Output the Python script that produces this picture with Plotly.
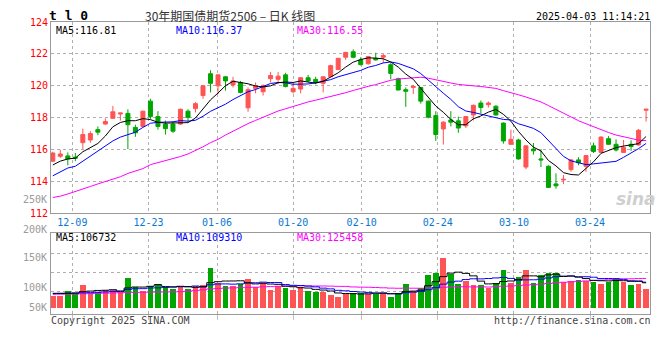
import plotly.graph_objects as go

# ---------------- data ----------------
dates = ["12-04","12-05","12-06","12-09","12-10","12-11","12-12","12-13","12-16","12-17",
         "12-18","12-19","12-20","12-23","12-24","12-25","12-26","12-27","12-30","12-31",
         "01-02","01-03","01-06","01-07","01-08","01-09","01-10","01-13","01-14","01-15",
         "01-16","01-17","01-20","01-21","01-22","01-23","01-24","01-27","02-05","02-06",
         "02-07","02-10","02-11","02-12","02-13","02-14","02-17","02-18","02-19","02-20",
         "02-21","02-24","02-25","02-26","02-27","02-28","03-03","03-04","03-05","03-06",
         "03-07","03-10","03-11","03-12","03-13","03-14","03-17","03-18","03-19","03-20",
         "03-21","03-24","03-25","03-26","03-27","03-28","03-31","04-01","04-02","04-03"]

open_ = [115.26,115.57,115.59,115.51,116.42,116.59,117.24,117.59,117.95,118.22,
         118.26,117.38,117.44,119.03,118.06,117.59,117.59,117.59,118.40,118.56,
         119.38,120.75,119.99,120.56,120.05,120.20,118.61,119.83,119.62,120.44,
         120.40,120.68,119.62,119.79,120.50,120.40,120.15,120.56,121.01,121.79,
         122.13,121.62,121.38,121.72,121.79,121.32,120.44,119.75,119.89,119.89,
         119.03,118.12,117.28,117.85,117.79,117.48,118.16,118.91,118.81,118.71,
         117.65,116.32,116.59,114.89,116.02,115.40,114.94,113.83,114.08,114.73,
         115.34,114.94,116.22,115.81,116.67,116.32,115.81,116.32,116.28,118.46]
high = [115.85,115.98,115.81,115.77,117.30,117.14,117.44,117.95,118.73,118.30,
        118.52,117.55,118.42,119.18,118.40,117.81,117.75,118.56,118.52,118.97,
        120.00,120.97,120.70,120.60,120.56,120.30,119.89,120.20,120.09,120.87,
        120.87,120.81,120.20,120.52,120.68,120.56,120.58,121.32,121.74,122.13,
        122.28,121.79,121.87,122.07,121.99,121.42,120.50,119.89,120.05,119.91,
        119.07,118.40,117.77,118.40,118.06,118.08,118.81,119.07,119.01,118.77,
        117.69,117.24,116.67,116.24,116.40,116.02,115.00,114.49,114.39,115.40,
        115.51,115.63,116.42,116.83,116.83,116.63,116.59,116.57,117.28,118.54]
low = [115.20,115.47,115.00,115.26,116.02,116.42,116.89,117.55,117.93,117.81,
       116.02,116.79,117.42,117.91,117.24,116.93,117.04,117.55,117.75,118.32,
       119.18,119.58,119.48,119.69,119.89,119.52,118.36,119.52,119.38,120.20,
       120.09,119.89,119.52,119.52,120.20,120.09,119.58,120.54,120.99,121.62,
       121.72,121.28,121.32,121.58,121.42,120.40,119.71,118.67,119.48,118.87,
       117.95,116.53,116.30,117.44,117.04,117.34,117.81,118.26,118.63,118.12,
       116.36,116.30,115.36,114.75,115.67,114.89,113.59,113.53,113.81,114.59,
       115.00,114.59,115.77,115.77,116.28,115.87,115.79,115.91,116.22,117.75]
close = [115.77,115.71,115.40,115.45,116.93,116.99,117.08,117.75,118.36,118.28,
         117.55,117.04,118.40,118.06,117.44,117.30,117.14,118.52,118.01,118.87,
         119.99,120.15,120.68,120.30,120.30,119.58,119.75,119.99,119.99,120.64,
         120.60,119.95,119.83,120.50,120.30,120.20,120.56,121.26,121.72,122.09,
         121.79,121.32,121.83,121.62,121.89,120.77,119.73,119.65,119.95,119.03,
         118.02,116.93,117.71,117.71,117.34,118.06,118.77,118.63,118.91,118.16,
         116.53,116.63,115.40,116.22,115.91,115.34,113.61,113.71,114.12,115.34,
         115.16,115.61,115.87,116.77,116.32,115.96,116.12,116.18,117.20,118.52]

ma5 = [115.02,115.26,115.40,115.45,115.85,116.10,116.37,116.84,117.42,117.69,
       117.80,117.80,117.93,117.87,117.70,117.65,117.67,117.69,117.68,117.97,
       118.51,119.11,119.54,120.00,120.28,120.20,120.12,119.98,119.92,119.99,
       120.19,120.23,120.20,120.30,120.24,120.16,120.28,120.56,120.81,121.17,
       121.48,121.64,121.75,121.73,121.69,121.49,121.17,120.73,120.40,119.83,
       119.28,118.72,118.33,117.88,117.54,117.55,117.92,118.10,118.34,118.51,
       118.20,117.77,117.13,116.59,116.14,115.90,115.30,114.96,114.54,114.42,
       114.39,114.79,115.22,115.75,115.95,116.11,116.21,116.27,116.36,116.81]
ma10 = [114.34,114.59,114.83,114.94,115.26,115.61,115.91,116.22,116.53,116.77,
        116.95,117.08,117.38,117.64,117.70,117.73,117.73,117.81,117.77,117.83,
        118.08,118.39,118.62,118.84,119.13,119.35,119.62,119.76,119.96,120.14,
        120.20,120.18,120.09,120.11,120.11,120.18,120.26,120.38,120.56,120.70,
        120.82,120.96,121.16,121.27,121.43,121.49,121.40,121.24,121.06,120.76,
        120.38,119.94,119.53,119.14,118.68,118.41,118.32,118.22,118.11,118.02,
        117.88,117.85,117.61,117.47,117.32,117.05,116.53,116.04,115.56,115.28,
        115.14,115.04,115.09,115.14,115.19,115.25,115.50,115.75,116.05,116.37]
ma30 = [112.98,113.06,113.20,113.37,113.51,113.67,113.83,113.98,114.12,114.28,
        114.49,114.65,114.79,115.04,115.16,115.28,115.40,115.55,115.71,115.91,
        116.16,116.42,116.63,116.90,117.15,117.42,117.62,117.82,118.03,118.25,
        118.41,118.55,118.70,118.87,118.98,119.09,119.20,119.32,119.43,119.56,
        119.70,119.84,119.96,120.07,120.22,120.34,120.42,120.46,120.53,120.53,
        120.47,120.36,120.26,120.17,120.08,120.02,119.99,119.95,119.91,119.83,
        119.69,119.58,119.43,119.29,119.14,118.98,118.75,118.50,118.25,118.02,
        117.80,117.61,117.41,117.25,117.06,116.90,116.78,116.67,116.58,116.55]

volume = [53500,53500,71800,64700,98400,64700,67500,75900,75900,70300,
          130800,88600,74600,92800,105400,88600,81600,88600,81600,94300,
          98400,173000,109700,95600,95600,102600,126600,88600,109700,78800,
          95600,85800,77300,88600,71800,67500,70300,56300,46400,60500,
          63300,63300,60500,60500,64700,46400,64700,105400,71800,84400,
          143400,151900,215200,147700,105400,116700,98400,101300,87200,109700,
          164500,109700,135100,164500,109700,143400,151900,151900,113900,118100,
          122400,118100,113900,105400,113900,130800,113900,101300,105400,80100]
vma5 = [60500,60500,61000,62000,68400,70600,73400,74200,76500,70900,
        84100,88300,88000,91400,98400,90000,88600,91400,89200,86900,
        88900,107200,111400,114200,114500,115300,106000,101800,104600,101300,
        99900,91700,89400,85200,83800,78200,75100,70900,62500,60200,
        59400,58000,58800,61600,62500,59100,59400,68300,70600,74500,
        93900,111400,133300,148500,152700,147400,136700,113900,101800,102700,
        112200,114500,121200,136700,136700,132500,140900,144300,134200,135800,
        131600,124900,117300,115600,114700,116400,115600,113100,113100,106732]
vma10 = [60500,61000,61500,62000,63000,64000,65500,67000,68500,69600,
         77400,80900,81100,84000,84700,87000,88500,89700,90300,92700,
         89500,97900,101400,101700,100700,102100,106600,106600,109400,107900,
         107600,98900,95600,94900,92500,89000,83400,80200,73800,72000,
         68800,66500,64900,62000,61300,59200,58700,63600,66100,68500,
         76500,85400,100800,109600,113600,120700,124000,123600,125200,127700,
         129800,125600,117600,119300,119700,122400,127700,132800,135400,136300,
         132100,132900,130800,124900,125300,124000,120200,115200,114300,109310]
vma30 = [56500,57000,57500,58000,58500,59500,60500,61500,62500,63500,
         64500,65000,65500,66000,66500,67000,67500,68000,70000,72500,
         76000,80000,82000,83500,84500,85500,86500,87500,89000,90100,
         91500,92500,92700,93500,92600,92700,92800,92200,91200,90900,
         88600,87800,87300,86200,84900,83500,82900,83400,83100,82800,
         84300,83600,87100,88800,89200,89600,88700,89100,88400,89400,
         91700,92500,94400,97000,98200,100700,103500,106700,108900,110800,
         112800,114600,116400,117900,119500,122300,124000,123900,125000,125458]

tick_labels = ["12-09", "12-23", "01-06", "01-20", "02-10", "02-24", "03-10", "03-24"]
price_ticks = [112, 114, 116, 118, 120, 122, 124]
vol_axis_labels = ["250K", "200K", "150K", "100K", "50K"]

# ---------------- styling / layout ----------------
W, H = 660, 360
def fx(px):
    return px / W
def fy(px):
    return 1 - px / H

RED = "#ff5454"
GREEN = "#00a600"
GRID = "#b0b0b0"
FRAME = "#9a9a9a"
MONO = "DejaVu Sans Mono"

x = list(range(len(dates)))
bar_colors = [RED if c > o else GREEN for o, c in zip(open_, close)]

# Sina's date grid pitch is slightly wider than its candle pitch
tick_pos = [dates.index(d) * 1.0138 - 0.44 for d in tick_labels]

fig = go.Figure()

fig.add_trace(go.Candlestick(
    x=x, open=open_, high=high, low=low, close=close,
    increasing=dict(line=dict(color=RED, width=1), fillcolor=RED),
    decreasing=dict(line=dict(color=GREEN, width=1), fillcolor=GREEN),
    whiskerwidth=0, hoverinfo="none", xaxis="x", yaxis="y"))

for series, col in [(ma30, "#ff00ff"), (ma10, "#0000ff"), (ma5, "#000000")]:
    fig.add_trace(go.Scatter(x=x, y=series, mode="lines",
                             line=dict(color=col, width=1),
                             hoverinfo="skip", xaxis="x", yaxis="y"))

fig.add_trace(go.Bar(x=x, y=volume, width=0.76,
                     marker=dict(color=bar_colors, line=dict(width=0)),
                     hoverinfo="skip", xaxis="x2", yaxis="y2"))

for series, col in [(vma30, "#ff00ff"), (vma10, "#0000ff"), (vma5, "#000000")]:
    fig.add_trace(go.Scatter(x=x, y=series, mode="lines",
                             line=dict(color=col, width=1, shape="hvh"),
                             hoverinfo="skip", xaxis="x2", yaxis="y2"))

xr = [-0.24, 79.52]
common_axis = dict(showline=True, mirror=True, linecolor=FRAME, linewidth=1,
                   showgrid=True, gridcolor=GRID, griddash="dot", gridwidth=1,
                   zeroline=False, fixedrange=True)

# volume scale: 0 sits at y=311px, 0.237 px per 1000 lots
vol_range = [-28300, 324900]
vol_grid = [67100, 150600, 233300]

fig.update_layout(
    width=W, height=H,
    margin=dict(l=0, r=0, t=0, b=0),
    paper_bgcolor="white", plot_bgcolor="white",
    showlegend=False, boxgap=0.24, bargap=0,
    xaxis=dict(domain=[fx(51), fx(650)], range=xr, anchor="y",
               tickvals=tick_pos, ticktext=tick_labels, ticks="",
               tickfont=dict(family=MONO, size=10, color="#0a78d2"),
               rangeslider=dict(visible=False), **common_axis),
    yaxis=dict(domain=[fy(214), fy(17.5)], range=[112, 124], anchor="x",
               tickvals=price_ticks, ticktext=[str(v) for v in price_ticks],
               ticks="", tickfont=dict(family=MONO, size=10, color="#ff0000"),
               **common_axis),
    xaxis2=dict(domain=[fx(51), fx(650)], range=xr, anchor="y2",
                tickvals=tick_pos, showticklabels=False,
                ticks="outside", ticklen=5, tickcolor="#c0c0c0",
                **common_axis),
    yaxis2=dict(domain=[fy(317.7), fy(234)], range=vol_range, anchor="x2",
                tickvals=vol_grid, showticklabels=False, ticks="",
                **common_axis),
)

ann = []
def text(px_x, px_y, s, color="#000", size=10, family=MONO, xanchor="left"):
    ann.append(dict(x=fx(px_x), y=fy(px_y), xref="paper", yref="paper",
                    text=s, showarrow=False, xanchor=xanchor, yanchor="middle",
                    font=dict(family=family, size=size, color=color)))

text(47, 11, "<b>t l 0</b>", size=13)
text(230, 10.5, "30年期国债期货2506 – 日K 线图", color="#333333", size=12,
     family="Noto Sans CJK SC", xanchor="center")
text(652, 11.5, "2025-04-03 11:14:21", xanchor="right")

text(54, 26.5, "MA5:%.2f" % ma5[-1], color="#000000")
text(174, 26.5, "MA10:%.2f" % ma10[-1], color="#0000ff")
text(295, 26.5, "MA30:%.2f" % ma30[-1], color="#ff00ff")

text(54, 239, "MA5:%d" % vma5[-1], color="#000000")
text(174, 239, "MA10:%d" % vma10[-1], color="#0000ff")
text(295, 239, "MA30:%d" % vma30[-1], color="#ff00ff")

for lab, py in zip(vol_axis_labels, [200, 230.5, 260, 290.7, 310.7]):
    text(48.5, py, lab, color="#9a9a9a", xanchor="right")

text(49, 324, "Copyright 2025 SINA.COM", color="#444444")
text(653, 324, "http://finance.sina.com.cn", color="#444444", xanchor="right")

text(636, 200, "<b><i>sina</i></b>", color="#cfcfcf", size=17,
     family="DejaVu Sans", xanchor="center")

fig.update_layout(annotations=ann)

fig.write_html("out.html", config={"displayModeBar": False},
               post_script="document.body.style.margin='0';")
